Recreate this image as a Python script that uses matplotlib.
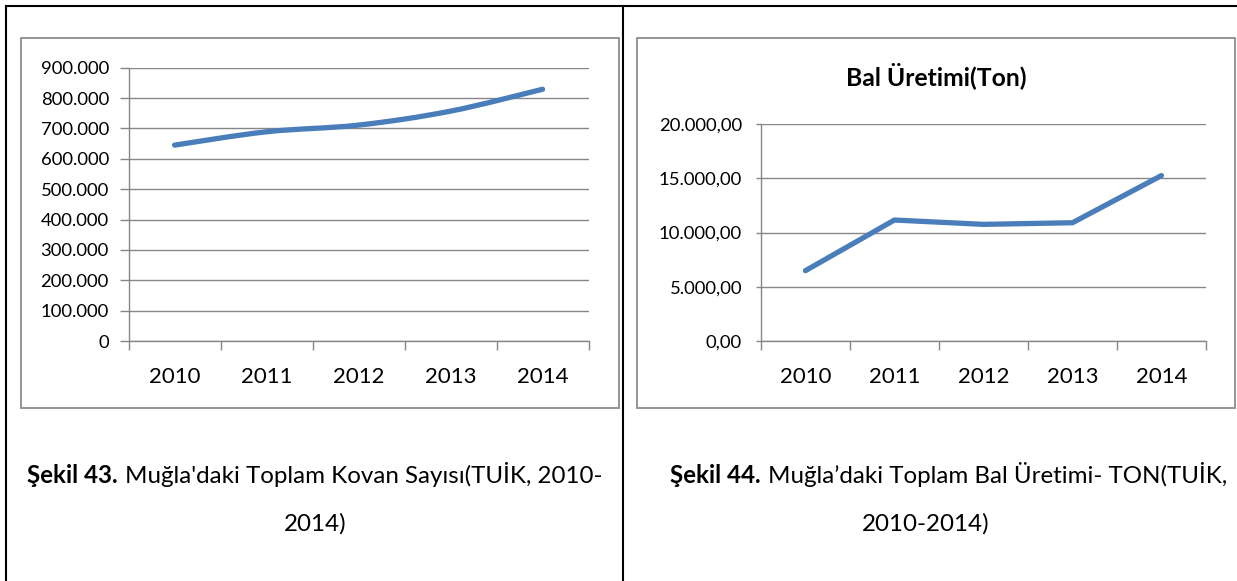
import matplotlib
matplotlib.use("Agg")
import matplotlib.pyplot as plt
import numpy as np
from matplotlib.lines import Line2D
from matplotlib.patches import Rectangle, PathPatch
from matplotlib.path import Path
from matplotlib.ticker import FuncFormatter

plt.rcParams['font.family'] = ['Lato', 'DejaVu Sans']

# data
years = ['2010', '2011', '2012', '2013', '2014']
kovan = [645000, 689000, 711000, 757000, 829000]      # toplam kovan sayisi
bal = [6480, 11150, 10750, 10900, 15250]              # bal uretimi (ton)

cap1_bold = "Şekil 43."
cap1_rest = "Muğla'daki Toplam Kovan Sayısı(TUİK, 2010-"
cap1_line2 = "2014)"
cap2_bold = "Şekil 44."
cap2_rest = "Muğla’daki Toplam Bal Üretimi- TON(TUİK,"
cap2_line2 = "2010-2014)"
bal_title = "Bal Üretimi(Ton)"

W, H = 1237, 581
BLUE = '#4a7ebb'
GRID = '#878787'

fig = plt.figure(figsize=(W / 100, H / 100), dpi=100)


def fx(x):
    return x / W


def fy(y):
    return 1 - y / H


# table borders
for xs, ys in [((6, W), (6, 6)), ((6, 6), (6, H)), ((623, 623), (6, H))]:
    fig.add_artist(Line2D([fx(xs[0]), fx(xs[1])], [fy(ys[0]), fy(ys[1])],
                          color='black', lw=1.5, transform=fig.transFigure))

# chart area frames
for x0, x1 in [(21, 619), (637, 1235)]:
    fig.add_artist(Rectangle((fx(x0), fy(408)), (x1 - x0) / W, (408 - 38) / H,
                             fill=False, ec='#8c8c8c', lw=1.3,
                             transform=fig.transFigure))


def style_axes(ax, ymax, ystep, fmt, ytick_len, ypad):
    n = len(years)
    ax.set_xlim(-0.5, n - 0.5)
    ax.set_ylim(0, ymax)
    ax.set_yticks(np.arange(0, ymax + 1, ystep))
    ax.yaxis.set_major_formatter(FuncFormatter(fmt))
    ax.grid(axis='y', color=GRID, lw=1.0)
    ax.set_axisbelow(True)
    for s in ['top', 'right']:
        ax.spines[s].set_visible(False)
    for s in ['left', 'bottom']:
        ax.spines[s].set_color(GRID)
        ax.spines[s].set_linewidth(1.0)
    ax.tick_params(axis='y', length=ytick_len, width=1.0, color=GRID,
                   pad=ypad, labelsize=13.3, labelcolor='black')
    ax.set_xticks(np.arange(-0.5, n, 1.0))
    ax.set_xticklabels([])
    ax.set_xticks(np.arange(n), minor=True)
    ax.set_xticklabels(years, minor=True)
    ax.tick_params(axis='x', which='major', length=6.4, width=1.0, color=GRID)
    ax.tick_params(axis='x', which='minor', length=0, pad=18.5,
                   labelsize=16, labelcolor='black')


def tr_int(v, pos):
    return f"{v:,.0f}".replace(",", ".")


def tr_dec(v, pos):
    return f"{v:,.2f}".replace(",", "#").replace(".", ",").replace("#", ".")


# left chart: smoothed line
ax1 = fig.add_axes([128.6 / W, (H - 341) / H, 460 / W, 273.3 / H])
style_axes(ax1, 900000, 100000, tr_int, 6.2, 8)

pts = np.column_stack([np.arange(len(kovan)), kovan]).astype(float)
verts = [pts[0]]
codes = [Path.MOVETO]
for i in range(len(pts) - 1):
    p0 = pts[i - 1] if i > 0 else pts[i]
    p1, p2 = pts[i], pts[i + 1]
    p3 = pts[i + 2] if i + 2 < len(pts) else pts[i + 1]
    verts += [p1 + (p2 - p0) / 6, p2 - (p3 - p1) / 6, p2]
    codes += [Path.CURVE4] * 3
ax1.add_patch(PathPatch(Path(verts, codes), fill=False, ec=BLUE, lw=3.8,
                        capstyle='round', joinstyle='round', zorder=3))

# right chart
ax2 = fig.add_axes([760.9 / W, (H - 341) / H, 445.1 / W, 217 / H])
style_axes(ax2, 20000, 5000, tr_dec, 3.6, 10)
ax2.plot(np.arange(len(bal)), bal, color=BLUE, lw=3.8,
         solid_capstyle='round', solid_joinstyle='round', zorder=3)
fig.text(fx(936.5), fy(85), bal_title, ha='center', va='baseline',
         fontsize=17.8, fontweight='bold')

# captions (bold figure number followed by regular text)
renderer = fig.canvas.get_renderer()
CAP_SIZE = 17.4


def caption(cx, base, bold, rest):
    t1 = fig.text(0, fy(base), bold, fontsize=CAP_SIZE, fontweight='bold',
                  va='baseline')
    t2 = fig.text(0, fy(base), rest, fontsize=CAP_SIZE, va='baseline')
    w1 = t1.get_window_extent(renderer).width
    w2 = t2.get_window_extent(renderer).width
    gap = 7
    x0 = cx - (w1 + gap + w2) / 2
    t1.set_x(fx(x0))
    t2.set_x(fx(x0 + w1 + gap))


caption(315, 483, cap1_bold, cap1_rest)
fig.text(fx(315), fy(531), cap1_line2, ha='center', va='baseline', fontsize=CAP_SIZE)
caption(948.5, 483, cap2_bold, cap2_rest)
fig.text(fx(926), fy(531), cap2_line2, ha='center', va='baseline', fontsize=CAP_SIZE)

fig.savefig('out.png', dpi=100)
